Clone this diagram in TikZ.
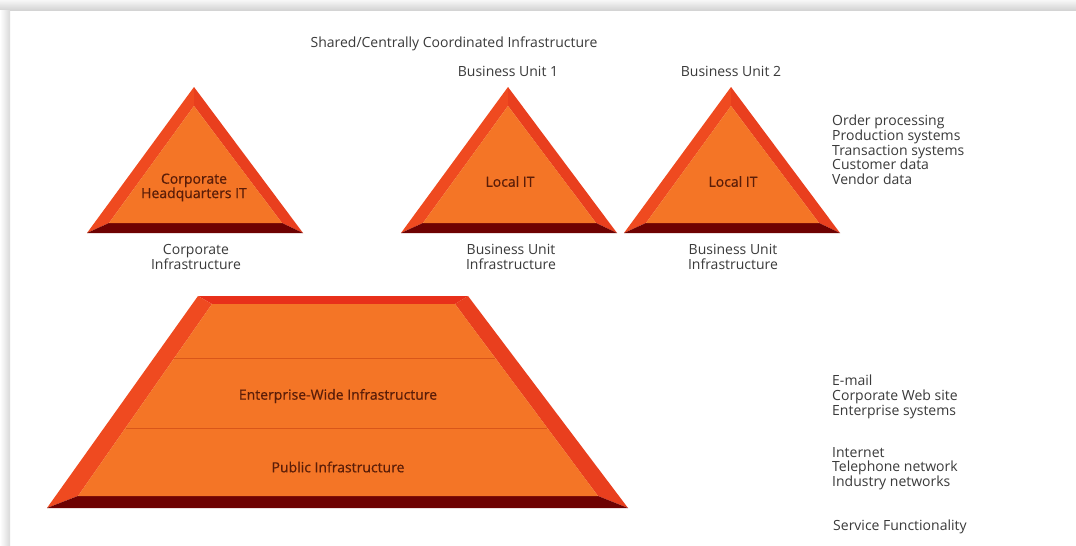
\documentclass[tikz,border=0pt]{standalone}
\usepackage{fontspec}
\setmainfont{Open Sans}
\newfontfamily\innerfont[FakeBold=0.6]{Open Sans}
\usetikzlibrary{positioning}
\definecolor{bevL}{HTML}{EF4A20}
\definecolor{bevR}{HTML}{E93F1E}
\definecolor{bevT}{HTML}{E8301A}
\definecolor{face}{HTML}{F47526}
\definecolor{base}{HTML}{6E0202}
\definecolor{bandline}{HTML}{D9561A}
\definecolor{lbl}{HTML}{3A3A3A}
\definecolor{inlbl}{HTML}{5A1D08}
\tikzset{
  lab/.style={font=\fontsize{14}{14.7}\selectfont, text=lbl, align=center, inner sep=0pt},
  list/.style={font=\fontsize{14}{14.7}\selectfont, text=lbl, align=left, anchor=north west, inner sep=0pt},
  inlab/.style={font=\innerfont\fontsize{14}{14.4}\selectfont, text=inlbl, align=center, inner sep=0pt},
  bevtri/.pic={
    \fill[bevL] (0,0) -- (0,19) -- (-85,136) -- (-107,146) -- cycle;
    \fill[bevR] (0,0) -- (109,146) -- (88,136) -- (0,19) -- cycle;
    \fill[base] (-107,146) -- (-85,136) -- (88,136) -- (109,146) -- cycle;
    \fill[face] (0,19) -- (88,136) -- (-85,136) -- cycle;
  }
}
\begin{document}
\begin{tikzpicture}[x=1pt,y=-1pt]
\useasboundingbox (0,0) rectangle (1076,546);
% card shadow
\shade[top color=black!3, bottom color=black!17] (0,0) rectangle (1076,10);
\shade[left color=white, right color=black!15] (0,10) rectangle (10,546);
\fill[white] (11,11) rectangle (1076,546);

% triangles
\pic at (194,87) {bevtri};
\pic at (508,87) {bevtri};
\pic at (731,87) {bevtri};

% trapezoid
\fill[bevT] (198,296) -- (468,296) -- (455,304) -- (212,304) -- cycle;
\fill[bevL] (198,296) -- (212,304) -- (78,496) -- (47,508) -- cycle;
\fill[bevR] (468,296) -- (628,508) -- (598,496) -- (455,304) -- cycle;
\fill[base] (47,508) -- (78,496) -- (598,496) -- (628,508) -- cycle;
\fill[face] (212,304) -- (455,304) -- (598,496) -- (78,496) -- cycle;
\draw[bandline, line width=0.8pt] (174.3,358) -- (495.2,358);
\draw[bandline, line width=0.8pt] (125.5,428) -- (547.4,428);

% texts
\node[lab] (shared) at (454,43.5) {Shared/Centrally Coordinated Infrastructure};
\node[lab] (bu1) at (508,71.5) {Business Unit 1};
\node[lab] (bu2) at (731,71.5) {Business Unit 2};
\node[inlab] (hq) at (194,187.5) {Corporate\\Headquarters IT};
\node[inlab] (lit1) at (510,181.5) {Local IT};
\node[inlab] (lit2) at (733,181.5) {Local IT};
\node[lab] (corpinf) at (196,257) {Corporate\\Infrastructure};
\node[lab] (buinf1) at (511,257) {Business Unit\\Infrastructure};
\node[lab] (buinf2) at (733,257) {Business Unit\\Infrastructure};
\node[list] (bulist) at (832,115) {Order processing\\Production systems\\Transaction systems\\Customer data\\Vendor data};
\node[inlab] (ewi) at (338,396) {Enterprise-Wide Infrastructure};
\node[inlab] (pub) at (338,467) {Public Infrastructure};
\node[list] (ewlist) at (832,375) {E-mail\\Corporate Web site\\Enterprise systems};
\node[list] (publist) at (832,447) {Internet\\Telephone network\\Industry networks};
\node[list] (svc) at (833,520) {Service Functionality};
\end{tikzpicture}
\end{document}
